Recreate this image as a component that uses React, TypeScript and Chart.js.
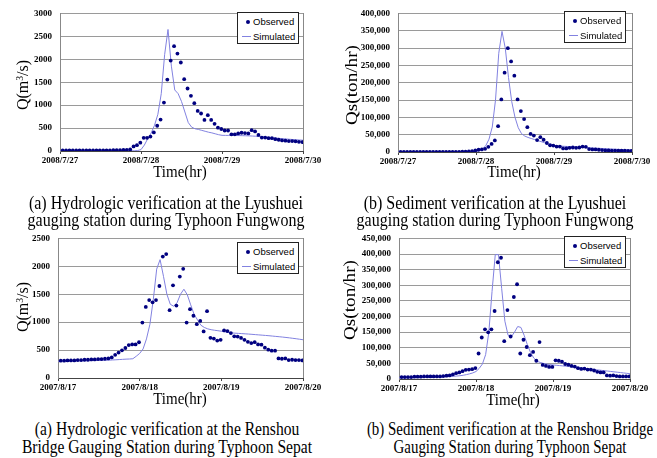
import React, { useEffect, useRef } from 'react';
import { Chart, registerables } from 'chart.js';

Chart.register(...registerables);

// ---------- data ----------
const HOUR_TICKS = [0, 24, 48, 72];
const FUNGWONG_DATES = ['2008/7/27', '2008/7/28', '2008/7/29', '2008/7/30'];
const SEPAT_DATES = ['2007/8/17', '2007/8/18', '2007/8/19', '2007/8/20'];
const OBS_T0 = 0.8; // hour of the first hourly observation

// Lyushuei, Typhoon Fungwong – discharge Q (m3/s)
const LYUSHUEI_Q_OBS = [
  12, 12, 12, 12, 12, 12, 12, 12, 12, 13, 13, 14, 14, 15, 15, 16, 18, 20, 22, 25, 35,
  100, 126, 182, 287, 287, 314, 405, 551, 685, 1055, 1558, 1971, 2285, 2124, 1929, 1566, 1363, 1202, 1042, 874, 818, 678, 782, 678, 593, 509,
  480, 447, 447, 363, 363, 384, 398, 390, 384, 455, 426, 350, 293, 293, 279, 279, 258, 245, 231, 225, 216, 216, 210, 200, 195,
];
const LYUSHUEI_Q_SIM = [
  5, 5, 5, 5, 5, 5, 5, 5, 5, 5, 5, 5, 5, 5, 5, 5, 5, 5, 5, 5, 5, 5,
  5, 10, 30, 130, 270, 390, 560, 800, 1250, 2100, 2650, 1850, 1330, 1250, 1080, 850, 620, 520, 485, 470, 450, 430, 410, 395, 375, 355, 342,
  340, 340, 340, 338, 336, 334, 332, 330, 326, 322, 316, 310, 303, 296, 289, 282, 275, 268, 262, 256, 250, 245, 240, 235,
];

// Lyushuei, Typhoon Fungwong – sediment Qs (ton/hr)
const LYUSHUEI_QS_OBS = [
  300, 300, 300, 300, 300, 300, 300, 300, 300, 300, 300, 300, 300, 300, 300, 300,
  400, 500, 600, 800, 1200, 1800, 2500,
  4650, 6500, 7400, 9300, 14900, 23250, 33500, 74400, 151600, 228800, 299500, 261300, 220400, 151600, 118100, 94900, 71600, 52100, 47400,
  34400, 42800, 35300, 26000, 19500, 18600, 15800, 15800, 10200, 10200, 12100, 13000, 12100, 13000, 15800, 14900, 8400, 7400, 7400,
  6500, 5600, 4650, 4500, 4200, 4000, 4000, 3800, 3600, 3500, 3000,
];
const LYUSHUEI_QS_SIM = [
  0, 0, 0, 0, 0, 0, 0, 0, 0, 0, 0, 0, 0, 0, 0, 0, 0, 0, 0, 0, 0, 0, 0,
  500, 1500, 4000, 9000, 18000, 37000, 72000, 150000, 285000, 348000, 300000, 215000, 145000, 100000, 70000, 53000, 46000, 42000,
  39000, 36000, 33000, 30000, 27000, 24000, 21000, 19000, 18000, 17000, 16500, 16000, 15500, 15000, 14500, 14000, 13500, 13000,
  12000, 11500, 11000, 10500, 10000, 9500, 9000, 8500, 8000, 7500, 7000, 6500, 6000, 5500,
];

// Renshou Bridge, Typhoon Sepat – discharge Q (m3/s)
const RENSHOU_Q_OBS = [
  310, 310, 315, 315, 315, 321, 321, 327, 327, 333, 333, 339, 339, 345, 350,
  368, 415, 456, 496, 537, 590, 601, 601, 640,
  992, 1273, 1396, 1355, 1396, 1648, 2174, 2219,
  1215, 1659, 1297, 1816, 1956, 992, 1232, 1115, 964, 1022, 834, 1197,
  719, 706, 671, 684, 852, 840, 805, 747, 742, 718, 683, 648,
  625, 642, 601, 596, 543, 508, 490, 490, 350, 345, 350, 321, 327, 321, 321, 315,
];
const RENSHOU_Q_SIM = [
  300, 301, 302, 303, 304, 305, 306, 307, 308, 310, 311, 313, 314, 316, 318, 320, 323, 326, 330, 334, 338,
  340, 345, 390, 440, 520, 700, 960, 1400, 1950, 2120, 1820, 1500, 1320, 1285, 1350, 1500, 1590, 1490, 1310, 1140, 1040, 945, 905,
  880, 865, 855, 847, 838, 828, 816, 808, 803, 799, 795, 791, 787, 782, 777, 772, 767, 762, 757, 751, 745, 739, 733, 726, 719, 711, 703, 694, 685,
];

// Renshou Bridge, Typhoon Sepat – sediment Qs (ton/hr)
const RENSHOU_QS_OBS = [
  6300, 6300, 6300, 6300, 7300, 7300, 7300, 8400, 8400, 8400, 8400, 8400, 8400, 9400, 10500,
  11500, 14600, 18800, 20900, 25100, 29300, 30300, 31400, 35000,
  81600, 132800, 158900, 149500, 158900, 217600, 373700, 388100,
  121200, 220700, 136000, 262500, 303300, 81600, 125600, 102400, 76300, 86700, 58400, 118100,
  44900, 41800, 38600, 38600, 59700, 58400, 55300, 48000, 46000, 41900, 39800, 34500,
  32400, 33500, 30300, 30300, 27200, 23000, 20900, 20900, 11500, 10500, 11500, 9400, 8400, 8400, 8400, 8400,
];
const RENSHOU_QS_SIM = [
  4000, 4100, 4200, 4300, 4400, 4500, 4700, 4900, 5100, 5300, 5600, 5900, 6200, 6600, 7000, 7500, 8000, 8700, 9500, 10500,
  12000, 14000, 16500, 19500, 24000, 34000, 48000, 78000, 150000, 280000, 398000, 398000, 290000, 185000, 140000, 135000,
  150000, 168000, 165000, 140000, 110000, 85000, 67000, 57000, 53000, 50000, 48000, 46000, 45000, 44000, 43000, 42000,
  41000, 39800, 38600, 37400, 36200, 35000, 33800, 32600, 31400, 30200, 29000, 27800, 26600, 25400, 24200, 23000,
  21800, 20600, 19400, 18200, 17000,
];

// ---------- styles ----------
const OBS_COLOR = '#000080';
const SIM_COLOR = '#8282e0';
const GRID_COLOR = '#9a9a9a';
const SERIF = '"Liberation Serif", "Times New Roman", serif';
const SANS = '"Liberation Sans", Arial, sans-serif';

type PanelProps = {
  left: number;
  top: number;
  width: number;
  height: number;
  yAxisWidth: number;
  xAxisHeight: number;
  padTop: number;
  padRight: number;
  yMax: number;
  yStep: number;
  comma: boolean;
  dates: string[];
  obs: number[];
  sim: number[];
};

const frameRight = {
  id: 'frameRight',
  afterDraw(chart: any) {
    const { ctx, chartArea } = chart;
    const x = Math.round(chartArea.right) + 0.5;
    ctx.save();
    ctx.strokeStyle = '#888888';
    ctx.lineWidth = 1;
    ctx.beginPath();
    ctx.moveTo(x, Math.round(chartArea.top));
    ctx.lineTo(x, Math.round(chartArea.bottom));
    ctx.stroke();
    ctx.restore();
  },
};

function Panel(p: PanelProps) {
  const ref = useRef<HTMLCanvasElement | null>(null);
  useEffect(() => {
    if (!ref.current) return;
    const tickFont = { family: SERIF, size: 9, weight: 'bold' as const };
    const chart = new Chart(ref.current, {
      type: 'scatter',
      data: {
        datasets: [
          {
            label: 'Observed',
            data: p.obs.map((v, i) => ({ x: OBS_T0 + i, y: v })),
            showLine: false,
            pointRadius: 1.9,
            pointBackgroundColor: OBS_COLOR,
            pointBorderColor: OBS_COLOR,
            pointBorderWidth: 0,
          },
          {
            label: 'Simulated',
            data: p.sim.map((v, h) => ({ x: h, y: v })),
            showLine: true,
            borderColor: SIM_COLOR,
            borderWidth: 1,
            pointRadius: 0,
            fill: false,
            tension: 0,
          },
        ],
      },
      options: {
        animation: false,
        responsive: false,
        maintainAspectRatio: false,
        devicePixelRatio: 1,
        layout: { padding: { top: p.padTop, right: p.padRight, left: 0, bottom: 0 } },
        plugins: { legend: { display: false }, tooltip: { enabled: false } },
        scales: {
          x: {
            type: 'linear',
            min: 0,
            max: 72,
            afterBuildTicks: (s: any) => {
              s.ticks = HOUR_TICKS.map((v) => ({ value: v }));
            },
            afterFit: (s: any) => {
              s.height = p.xAxisHeight;
            },
            ticks: {
              autoSkip: false,
              maxRotation: 0,
              padding: 1,
              color: '#000',
              font: tickFont,
              callback: (v: any) => p.dates[HOUR_TICKS.indexOf(Number(v))] ?? '',
            },
            grid: { drawOnChartArea: false, drawTicks: true, tickLength: 3, color: '#444' },
            border: { color: '#444', width: 1 },
          },
          y: {
            min: 0,
            max: p.yMax,
            afterFit: (s: any) => {
              s.width = p.yAxisWidth;
            },
            ticks: {
              stepSize: p.yStep,
              padding: 8,
              color: '#000',
              font: tickFont,
              callback: (v: any) => (p.comma ? Number(v).toLocaleString('en-US') : String(v)),
            },
            grid: { color: GRID_COLOR, drawTicks: false, lineWidth: 1 },
            border: { color: '#888', width: 1 },
          },
        },
      } as any,
      plugins: [frameRight],
    });
    return () => chart.destroy();
  }, []);
  return (
    <canvas
      ref={ref}
      width={p.width}
      height={p.height}
      style={{ position: 'absolute', left: p.left, top: p.top, width: p.width, height: p.height }}
    />
  );
}

function Legend({ left, top }: { left: number; top: number }) {
  const row: React.CSSProperties = {
    position: 'absolute',
    left: 15,
    fontFamily: SANS,
    fontSize: 9.5,
    lineHeight: '11px',
    color: '#000',
    whiteSpace: 'nowrap',
  };
  return (
    <div
      style={{
        position: 'absolute',
        left,
        top,
        width: 62,
        height: 32,
        border: '1px solid #222',
        background: '#fff',
        boxSizing: 'border-box',
      }}
    >
      <div
        style={{
          position: 'absolute',
          left: 7.5,
          top: 6.5,
          width: 4,
          height: 4,
          borderRadius: 2,
          background: OBS_COLOR,
        }}
      />
      <div style={{ ...row, top: 2.5 }}>Observed</div>
      <div style={{ position: 'absolute', left: 4, top: 23, width: 9, height: 1, background: SIM_COLOR }} />
      <div style={{ ...row, top: 18 }}>Simulated</div>
    </div>
  );
}

function Text({
  x,
  y,
  children,
  size,
  rotate,
  stretch,
  lineHeight,
}: {
  x: number;
  y: number;
  children: React.ReactNode;
  size: number;
  rotate?: boolean;
  stretch?: number;
  lineHeight?: number;
}) {
  const s = stretch ?? 1;
  const transform = rotate
    ? `translate(-50%, -50%) rotate(-90deg) scaleX(${s})`
    : `translate(-50%, -50%) scaleY(${s})`;
  return (
    <div
      style={{
        position: 'absolute',
        left: x,
        top: y,
        transform,
        fontFamily: SERIF,
        fontSize: size,
        lineHeight: lineHeight ? `${lineHeight}px` : 'normal',
        color: '#000',
        whiteSpace: 'nowrap',
        textAlign: 'center',
      }}
    >
      {children}
    </div>
  );
}

const QLabel = () => (
  <span>
    Q(m<sup style={{ fontSize: '0.6em', verticalAlign: '0.5em', lineHeight: 0 }}>3</sup>/s)
  </span>
);

export default function App() {
  return (
    <div
      style={{
        position: 'absolute',
        left: 0,
        top: 0,
        width: 657,
        height: 458,
        background: '#fff',
        overflow: 'hidden',
      }}
    >
      <Panel
        left={0}
        top={0}
        width={330}
        height={175}
        yAxisWidth={60}
        xAxisHeight={24}
        padTop={8}
        padRight={27}
        yMax={3000}
        yStep={500}
        comma={false}
        dates={FUNGWONG_DATES}
        obs={LYUSHUEI_Q_OBS}
        sim={LYUSHUEI_Q_SIM}
      />
      <Panel
        left={330}
        top={0}
        width={327}
        height={175}
        yAxisWidth={68}
        xAxisHeight={23}
        padTop={9}
        padRight={25}
        yMax={400000}
        yStep={50000}
        comma={true}
        dates={FUNGWONG_DATES}
        obs={LYUSHUEI_QS_OBS}
        sim={LYUSHUEI_QS_SIM}
      />
      <Panel
        left={0}
        top={225}
        width={330}
        height={175}
        yAxisWidth={58}
        xAxisHeight={22}
        padTop={11}
        padRight={27}
        yMax={2500}
        yStep={500}
        comma={false}
        dates={SEPAT_DATES}
        obs={RENSHOU_Q_OBS}
        sim={RENSHOU_Q_SIM}
      />
      <Panel
        left={330}
        top={225}
        width={327}
        height={175}
        yAxisWidth={69}
        xAxisHeight={21}
        padTop={11}
        padRight={27}
        yMax={450000}
        yStep={50000}
        comma={true}
        dates={SEPAT_DATES}
        obs={RENSHOU_QS_OBS}
        sim={RENSHOU_QS_SIM}
      />

      <Legend left={237} top={12} />
      <Legend left={564} top={11} />
      <Legend left={237} top={242} />
      <Legend left={564} top={236} />

      <Text x={23} y={85} size={16} rotate>
        <QLabel />
      </Text>
      <Text x={352} y={85} size={16} rotate stretch={1.2}>
        Qs(ton/hr)
      </Text>
      <Text x={23} y={307} size={16} rotate>
        <QLabel />
      </Text>
      <Text x={350} y={300} size={16} rotate stretch={1.2}>
        Qs(ton/hr)
      </Text>

      <Text x={180} y={172} size={15} stretch={1.15}>
        Time(hr)
      </Text>
      <Text x={514} y={172} size={15} stretch={1.15}>
        Time(hr)
      </Text>
      <Text x={180} y={399} size={15} stretch={1.15}>
        Time(hr)
      </Text>
      <Text x={513} y={400} size={15} stretch={1.15}>
        Time(hr)
      </Text>

      <Text x={166} y={211.5} size={16} stretch={1.15} lineHeight={14.8}>
        (a) Hydrologic verification at the Lyushuei
        <br />
        gauging station during Typhoon Fungwong
      </Text>
      <Text x={495} y={211.5} size={16} stretch={1.15} lineHeight={14.8}>
        (b) Sediment verification at the Lyushuei
        <br />
        gauging station during Typhoon Fungwong
      </Text>
      <Text x={167} y={438} size={15.6} stretch={1.18} lineHeight={15.3}>
        (a) Hydrologic verification at the Renshou
        <br />
        Bridge Gauging Station during Typhoon Sepat
      </Text>
      <Text x={510} y={438} size={14.9} stretch={1.23} lineHeight={14.7}>
        (b) Sediment verification at the Renshou Bridge
        <br />
        Gauging Station during Typhoon Sepat
      </Text>
    </div>
  );
}
